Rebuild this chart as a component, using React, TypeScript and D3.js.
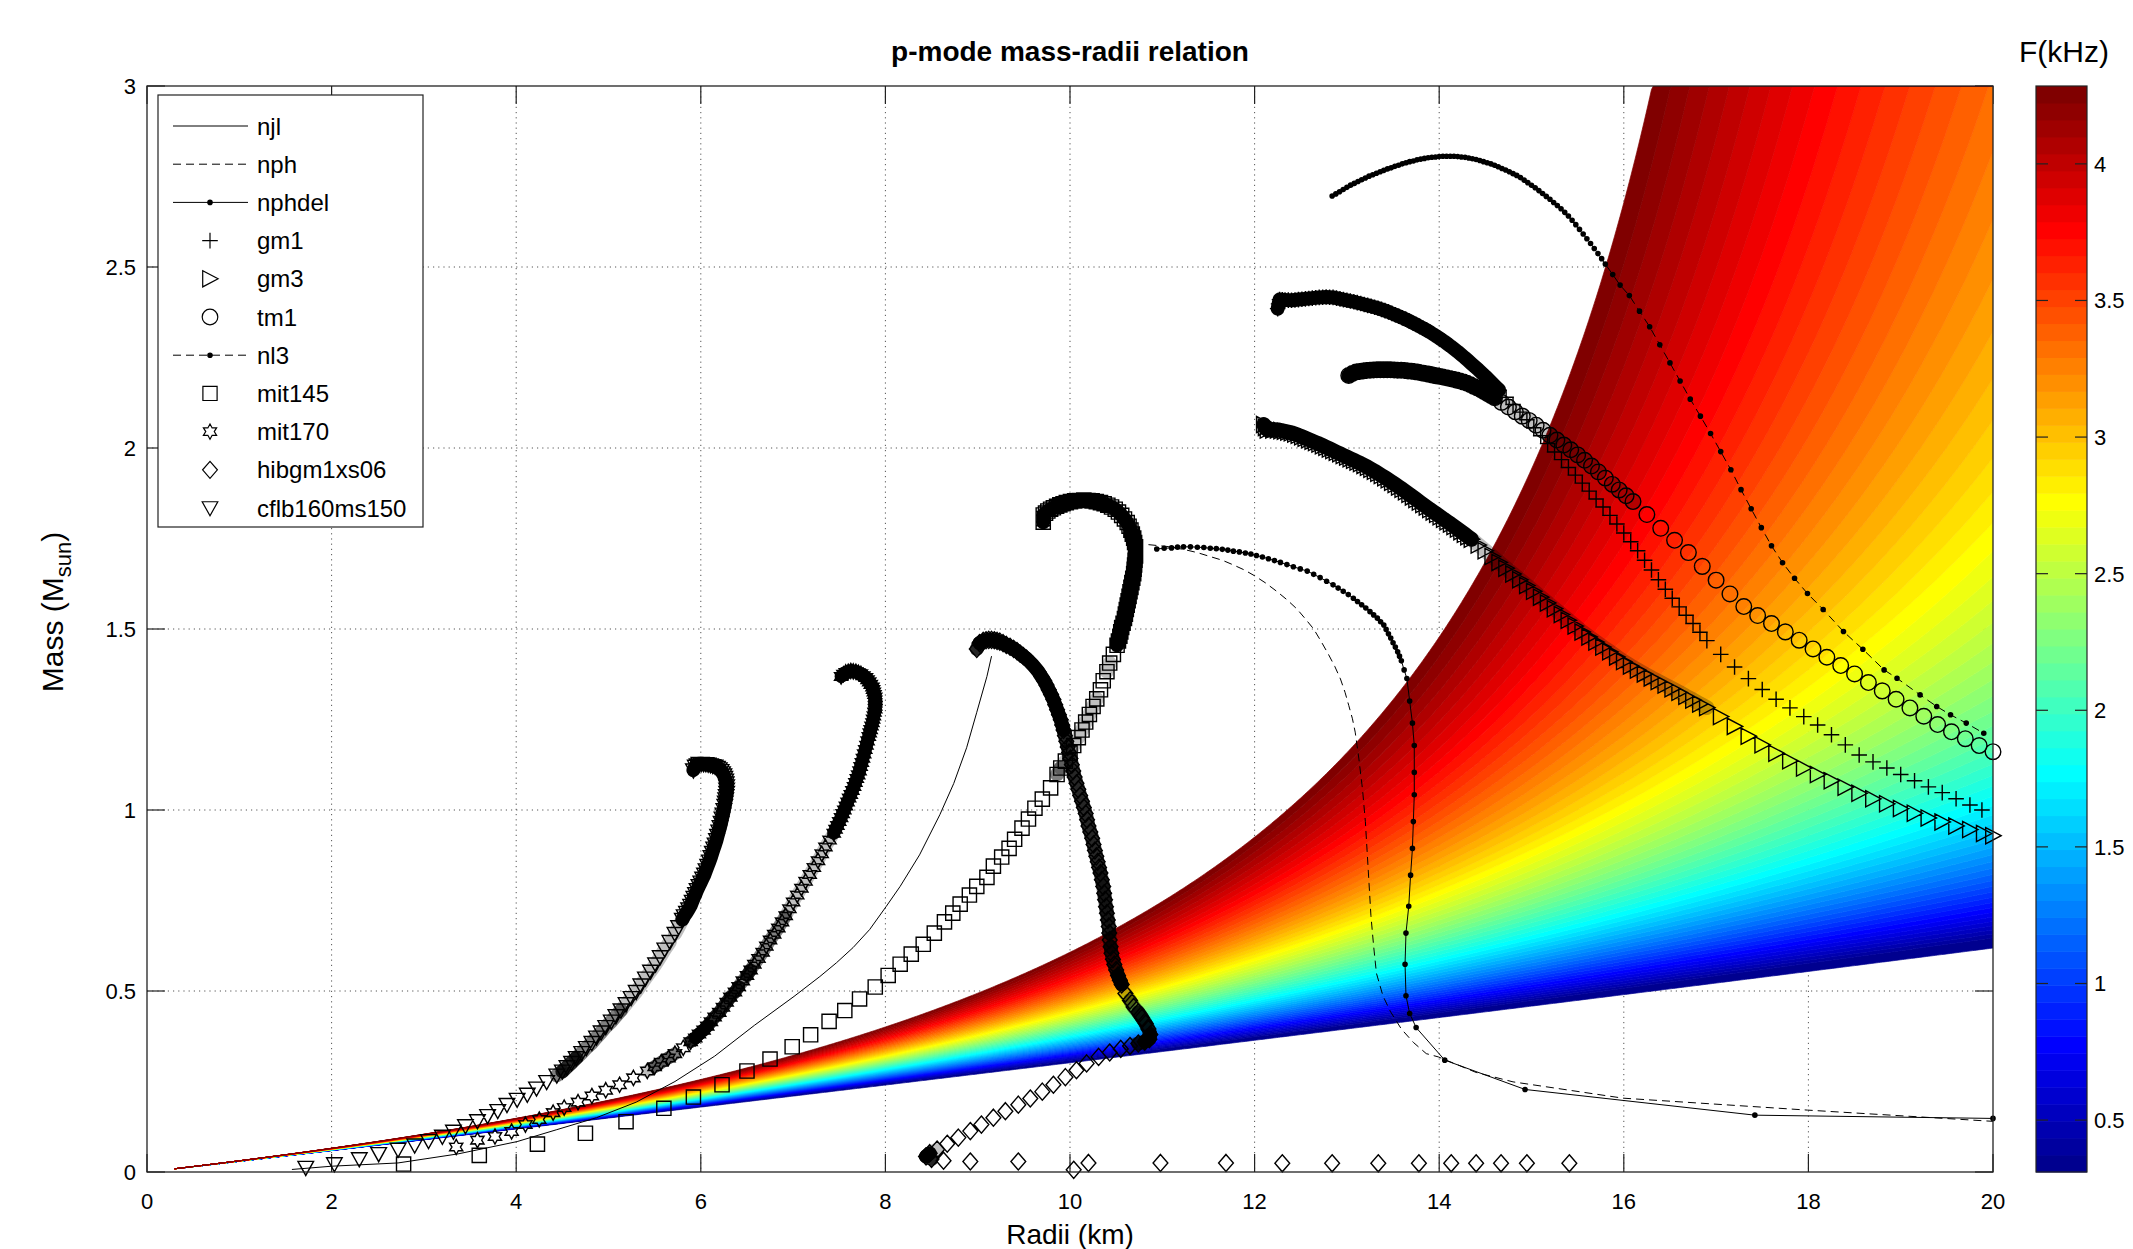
import React from 'react';
import * as d3 from 'd3';

type Pt = [number, number];

// ---- axes / colour data ----
const xTicks = [0, 2, 4, 6, 8, 10, 12, 14, 16, 18, 20];
const yTicks = [0, 0.5, 1, 1.5, 2, 2.5, 3];
const cTicks = [0.5, 1, 1.5, 2, 2.5, 3, 3.5, 4];
const cLimits: [number, number] = [0.31, 4.285];
const fieldLimits: [number, number] = [0.2, 4.285];
// empirical p-mode fit: F(kHz) = (1/Mb)(c0 + c1*Mb/Rb), Mb = M/1.4, Rb = R/10
const pModeFit = { c0: -1.75, c1: 8.32, mRef: 1.4, rRef: 10 };

// ---- mass-radius sequences [R (km), M (Msun)] ----
const njl: Pt[] = [[1.57,0.007],[2.0,0.016],[2.72,0.025],[3.37,0.05],[4.01,0.084],[4.44,0.117],[4.87,0.15],[5.3,0.193],[5.72,0.25],[6.15,0.32],[6.58,0.405],[7.01,0.485],[7.29,0.54],[7.47,0.578],[7.65,0.62],[7.83,0.67],[8.01,0.734],[8.16,0.789],[8.37,0.876],[8.59,0.987],[8.74,1.073],[8.88,1.172],[8.99,1.27],[9.1,1.369],[9.15,1.425]];

const nph: Pt[] = [[10.85,1.733],[11.05,1.728],[11.23,1.72],[11.38,1.711],[11.52,1.7],[11.65,1.69],[11.77,1.677],[11.89,1.663],[12.0,1.647],[12.12,1.627],[12.24,1.604],[12.35,1.581],[12.46,1.555],[12.55,1.528],[12.64,1.5],[12.72,1.466],[12.8,1.43],[12.87,1.396],[12.93,1.362],[12.98,1.325],[13.02,1.289],[13.06,1.252],[13.09,1.215],[13.11,1.178],[13.13,1.141],[13.15,1.098],[13.17,1.055],[13.2,0.968],[13.22,0.882],[13.24,0.796],[13.26,0.709],[13.29,0.623],[13.32,0.549],[13.39,0.487],[13.47,0.444],[13.59,0.395],[13.72,0.358],[13.86,0.327],[13.99,0.318],[14.4,0.275],[14.8,0.249],[15.99,0.204],[17.99,0.171],[19.93,0.141],[20.0,0.14]];

const nphdel: Pt[] = [[10.94,1.721],[11.02,1.723],[11.1,1.724],[11.165,1.726],[11.23,1.727],[11.305,1.727],[11.38,1.726],[11.45,1.725],[11.52,1.723],[11.585,1.722],[11.65,1.72],[11.71,1.718],[11.77,1.715],[11.835,1.713],[11.9,1.71],[11.96,1.707],[12.02,1.703],[12.085,1.699],[12.15,1.694],[12.215,1.689],[12.28,1.684],[12.35,1.678],[12.42,1.672],[12.495,1.666],[12.57,1.66],[12.64,1.651],[12.71,1.642],[12.78,1.632],[12.85,1.622],[12.905,1.613],[12.96,1.604],[13.015,1.595],[13.07,1.585],[13.115,1.576],[13.16,1.567],[13.205,1.558],[13.25,1.548],[13.29,1.539],[13.33,1.53],[13.365,1.52],[13.4,1.511],[13.425,1.499],[13.45,1.487],[13.475,1.475],[13.5,1.462],[13.525,1.45],[13.55,1.437],[13.57,1.425],[13.59,1.412],[13.62,1.387],[13.65,1.363],[13.68,1.301],[13.71,1.24],[13.73,1.178],[13.73,1.104],[13.73,1.042],[13.72,0.968],[13.71,0.894],[13.69,0.82],[13.67,0.734],[13.64,0.66],[13.63,0.574],[13.64,0.487],[13.68,0.438],[13.75,0.399],[14.06,0.309],[14.93,0.228],[17.42,0.157],[20.0,0.148]];

const gm1: Pt[] = [[12.25,2.385],[12.26,2.398],[12.27,2.41],[12.3,2.4095],[12.33,2.409],[12.365,2.4085],[12.4,2.408],[12.4375,2.409],[12.475,2.41],[12.5125,2.411],[12.55,2.412],[12.5875,2.413],[12.625,2.414],[12.6625,2.415],[12.7,2.416],[12.7375,2.4165],[12.775,2.417],[12.8125,2.4165],[12.85,2.416],[12.8875,2.414],[12.925,2.412],[12.9625,2.41],[13.0,2.408],[13.0375,2.406],[13.075,2.404],[13.1125,2.4015],[13.15,2.399],[13.1875,2.3965],[13.225,2.394],[13.2625,2.3915],[13.3,2.389],[13.3375,2.386],[13.375,2.383],[13.4125,2.3795],[13.45,2.376],[13.4875,2.372],[13.525,2.368],[13.5625,2.364],[13.6,2.36],[13.6375,2.3555],[13.675,2.351],[13.7125,2.346],[13.75,2.341],[13.7875,2.336],[13.825,2.331],[13.8625,2.3255],[13.9,2.32],[13.9375,2.314],[13.975,2.308],[14.0125,2.3015],[14.05,2.295],[14.0875,2.288],[14.125,2.281],[14.1625,2.2735],[14.2,2.266],[14.2375,2.258],[14.275,2.25],[14.3125,2.2415],[14.35,2.233],[14.3875,2.2245],[14.425,2.216],[14.4625,2.207],[14.5,2.198],[14.5375,2.1885],[14.575,2.179],[14.6125,2.1695],[14.65,2.16],[14.725,2.14],[14.8,2.12],[14.875,2.099],[14.95,2.078],[15.025,2.056],[15.1,2.034],[15.175,2.012],[15.25,1.989],[15.325,1.968],[15.4,1.946],[15.475,1.925],[15.55,1.903],[15.625,1.881],[15.7,1.859],[15.775,1.837],[15.85,1.814],[15.925,1.79],[16.0,1.765],[16.075,1.741],[16.15,1.716],[16.225,1.69],[16.3,1.663],[16.375,1.636],[16.45,1.61],[16.525,1.585],[16.6,1.561],[16.675,1.538],[16.75,1.515],[16.825,1.491],[16.9,1.468],[17.05,1.43],[17.2,1.395],[17.35,1.363],[17.5,1.333],[17.65,1.306],[17.8,1.282],[17.95,1.258],[18.1,1.235],[18.25,1.208],[18.4,1.18],[18.55,1.152],[18.7,1.133],[18.85,1.116],[19.0,1.098],[19.15,1.081],[19.3,1.064],[19.45,1.048],[19.6,1.031],[19.75,1.014],[19.88,1.0]];

const gm3: Pt[] = [[12.1,2.065],[12.12,2.057],[12.14,2.05],[12.2,2.05],[12.25,2.05],[12.2875,2.048],[12.325,2.046],[12.3625,2.044],[12.4,2.042],[12.4375,2.0385],[12.475,2.035],[12.5125,2.031],[12.55,2.027],[12.5875,2.023],[12.625,2.019],[12.6625,2.015],[12.7,2.011],[12.7375,2.0065],[12.775,2.002],[12.8125,1.9975],[12.85,1.993],[12.8875,1.9885],[12.925,1.984],[12.9625,1.9795],[13.0,1.975],[13.0375,1.9705],[13.075,1.966],[13.1125,1.9615],[13.15,1.957],[13.1875,1.952],[13.225,1.947],[13.2625,1.9415],[13.3,1.936],[13.3375,1.93],[13.375,1.924],[13.4125,1.918],[13.45,1.912],[13.4875,1.9055],[13.525,1.899],[13.5625,1.8925],[13.6,1.886],[13.6375,1.879],[13.675,1.872],[13.7125,1.865],[13.75,1.858],[13.7875,1.851],[13.825,1.844],[13.8625,1.837],[13.9,1.83],[13.9375,1.8235],[13.975,1.817],[14.0125,1.81],[14.05,1.803],[14.0875,1.7965],[14.125,1.79],[14.1625,1.783],[14.2,1.776],[14.2375,1.769],[14.275,1.762],[14.3125,1.755],[14.35,1.748],[14.425,1.732],[14.5,1.716],[14.575,1.7],[14.65,1.684],[14.725,1.668],[14.8,1.652],[14.875,1.636],[14.95,1.62],[15.025,1.604],[15.1,1.588],[15.175,1.572],[15.25,1.556],[15.325,1.54],[15.4,1.524],[15.475,1.508],[15.55,1.492],[15.625,1.478],[15.7,1.464],[15.775,1.45],[15.85,1.437],[15.925,1.423],[16.0,1.41],[16.075,1.398],[16.15,1.387],[16.225,1.376],[16.3,1.365],[16.375,1.355],[16.45,1.345],[16.525,1.335],[16.6,1.325],[16.675,1.314],[16.75,1.304],[16.825,1.293],[16.9,1.283],[17.05,1.258],[17.2,1.231],[17.35,1.204],[17.5,1.18],[17.65,1.157],[17.8,1.136],[17.95,1.116],[18.1,1.098],[18.25,1.081],[18.4,1.063],[18.55,1.046],[18.7,1.031],[18.85,1.017],[19.0,1.004],[19.15,0.991],[19.3,0.978],[19.45,0.967],[19.6,0.956],[19.75,0.946],[19.9,0.935],[20.0,0.929]];

const tm1: Pt[] = [[13.02,2.2],[13.06,2.206],[13.1,2.21],[13.1375,2.2115],[13.175,2.213],[13.2125,2.214],[13.25,2.215],[13.2875,2.2155],[13.325,2.216],[13.3625,2.216],[13.4,2.216],[13.4375,2.216],[13.475,2.216],[13.5125,2.2155],[13.55,2.215],[13.5875,2.2145],[13.625,2.214],[13.6625,2.213],[13.7,2.212],[13.7375,2.2105],[13.775,2.209],[13.8125,2.2075],[13.85,2.206],[13.8875,2.204],[13.925,2.202],[13.9625,2.2],[14.0,2.198],[14.0375,2.196],[14.075,2.194],[14.1125,2.192],[14.15,2.19],[14.1875,2.1875],[14.225,2.185],[14.2625,2.182],[14.3,2.179],[14.3375,2.1745],[14.375,2.17],[14.4125,2.1655],[14.45,2.161],[14.4875,2.1555],[14.525,2.15],[14.5625,2.1445],[14.6,2.139],[14.675,2.126],[14.75,2.113],[14.825,2.1],[14.9,2.088],[14.975,2.076],[15.05,2.063],[15.125,2.049],[15.2,2.035],[15.275,2.022],[15.35,2.008],[15.425,1.995],[15.5,1.981],[15.575,1.966],[15.65,1.95],[15.725,1.934],[15.8,1.917],[15.875,1.9],[15.95,1.884],[16.025,1.868],[16.1,1.852],[16.25,1.816],[16.4,1.778],[16.55,1.745],[16.7,1.711],[16.85,1.673],[17.0,1.635],[17.15,1.597],[17.3,1.562],[17.45,1.537],[17.6,1.515],[17.75,1.492],[17.9,1.469],[18.05,1.445],[18.2,1.422],[18.35,1.399],[18.5,1.376],[18.65,1.352],[18.8,1.329],[18.95,1.306],[19.1,1.282],[19.25,1.259],[19.4,1.236],[19.55,1.216],[19.7,1.197],[19.85,1.178],[20.0,1.161]];

const nl3: Pt[] = [[12.84,2.696],[12.88,2.702],[12.92,2.708],[12.96,2.714],[13.0,2.72],[13.04,2.726],[13.08,2.731],[13.12,2.736],[13.16,2.741],[13.2,2.746],[13.24,2.751],[13.28,2.755],[13.32,2.759],[13.36,2.763],[13.4,2.767],[13.44,2.771],[13.48,2.774],[13.52,2.778],[13.56,2.781],[13.6,2.785],[13.64,2.788],[13.68,2.791],[13.72,2.793],[13.76,2.796],[13.8,2.798],[13.84,2.8],[13.88,2.802],[13.92,2.803],[13.96,2.804],[14.0,2.805],[14.04,2.806],[14.08,2.806],[14.12,2.806],[14.16,2.806],[14.2,2.805],[14.24,2.804],[14.28,2.803],[14.32,2.801],[14.36,2.799],[14.4,2.797],[14.44,2.794],[14.48,2.791],[14.52,2.788],[14.56,2.785],[14.6,2.781],[14.64,2.777],[14.68,2.772],[14.72,2.768],[14.76,2.763],[14.8,2.758],[14.84,2.753],[14.88,2.747],[14.92,2.74],[14.96,2.733],[15.0,2.726],[15.04,2.719],[15.08,2.711],[15.12,2.703],[15.16,2.695],[15.2,2.687],[15.24,2.678],[15.28,2.67],[15.32,2.661],[15.36,2.651],[15.4,2.641],[15.44,2.629],[15.48,2.617],[15.52,2.604],[15.56,2.591],[15.6,2.578],[15.64,2.565],[15.68,2.551],[15.72,2.537],[15.76,2.523],[15.8,2.508],[15.88,2.479],[15.96,2.45],[16.06,2.421],[16.17,2.378],[16.28,2.335],[16.39,2.285],[16.5,2.235],[16.61,2.185],[16.72,2.135],[16.83,2.088],[16.94,2.04],[17.05,1.99],[17.16,1.94],[17.27,1.885],[17.38,1.832],[17.49,1.78],[17.6,1.73],[17.72,1.683],[17.85,1.64],[17.99,1.598],[18.16,1.554],[18.38,1.493],[18.59,1.444],[18.82,1.387],[18.96,1.364],[19.21,1.318],[19.39,1.286],[19.54,1.263],[19.71,1.24],[19.9,1.212]];

const mit145: Pt[] = [[2.78,0.022],[3.6,0.046],[4.23,0.077],[4.75,0.107],[5.19,0.139],[5.6,0.176],[5.92,0.207],[6.23,0.241],[6.5,0.279],[6.75,0.312],[6.99,0.346],[7.19,0.379],[7.39,0.416],[7.56,0.446],[7.72,0.478],[7.89,0.511],[8.03,0.543],[8.16,0.574],[8.28,0.602],[8.41,0.629],[8.53,0.66],[8.64,0.691],[8.73,0.715],[8.81,0.74],[8.91,0.765],[8.99,0.789],[9.1,0.814],[9.17,0.845],[9.26,0.87],[9.34,0.894],[9.4,0.919],[9.48,0.95],[9.55,0.975],[9.62,1.005],[9.7,1.03],[9.79,1.061],[9.86,1.098],[9.9,1.116],[9.95,1.135],[10.0,1.157],[10.04,1.178],[10.09,1.2],[10.13,1.221],[10.17,1.243],[10.21,1.264],[10.25,1.286],[10.29,1.307],[10.33,1.332],[10.36,1.357],[10.4,1.382],[10.43,1.406],[10.47,1.43],[10.51,1.455],[10.525,1.467],[10.54,1.48],[10.55,1.492],[10.56,1.504],[10.575,1.516],[10.59,1.529],[10.6,1.541],[10.61,1.554],[10.62,1.566],[10.63,1.578],[10.64,1.59],[10.65,1.603],[10.66,1.615],[10.67,1.628],[10.68,1.64],[10.69,1.653],[10.695,1.665],[10.7,1.677],[10.705,1.69],[10.71,1.702],[10.71,1.714],[10.71,1.727],[10.7,1.739],[10.69,1.751],[10.675,1.762],[10.66,1.773],[10.64,1.784],[10.62,1.794],[10.59,1.804],[10.56,1.814],[10.525,1.823],[10.49,1.831],[10.45,1.837],[10.41,1.842],[10.37,1.846],[10.33,1.849],[10.285,1.852],[10.24,1.854],[10.195,1.855],[10.15,1.856],[10.1,1.855],[10.05,1.854],[10.005,1.852],[9.96,1.849],[9.925,1.846],[9.89,1.843],[9.855,1.839],[9.82,1.835],[9.79,1.831],[9.76,1.826],[9.735,1.82],[9.71,1.815],[9.71,1.805],[9.71,1.795]];

const mit170: Pt[] = [[3.35,0.069],[3.58,0.088],[3.77,0.098],[3.95,0.112],[4.1,0.131],[4.25,0.145],[4.4,0.164],[4.52,0.178],[4.67,0.193],[4.82,0.21],[4.97,0.226],[5.12,0.241],[5.27,0.26],[5.42,0.279],[5.5,0.291],[5.57,0.303],[5.65,0.315],[5.72,0.327],[5.81,0.343],[5.89,0.36],[5.94,0.37],[5.98,0.381],[6.03,0.392],[6.07,0.403],[6.11,0.415],[6.15,0.428],[6.2,0.441],[6.24,0.455],[6.28,0.469],[6.32,0.483],[6.37,0.497],[6.41,0.512],[6.455,0.528],[6.5,0.543],[6.54,0.558],[6.58,0.574],[6.625,0.59],[6.67,0.607],[6.71,0.624],[6.75,0.641],[6.795,0.657],[6.84,0.674],[6.88,0.691],[6.92,0.708],[6.96,0.727],[7.0,0.746],[7.045,0.765],[7.09,0.784],[7.135,0.803],[7.18,0.822],[7.225,0.841],[7.27,0.86],[7.31,0.879],[7.35,0.898],[7.395,0.917],[7.44,0.936],[7.46,0.947],[7.48,0.957],[7.5,0.968],[7.52,0.979],[7.537,0.99],[7.555,1.0],[7.572,1.011],[7.59,1.022],[7.607,1.033],[7.625,1.043],[7.642,1.054],[7.66,1.065],[7.675,1.076],[7.69,1.087],[7.705,1.097],[7.72,1.108],[7.732,1.12],[7.745,1.131],[7.757,1.143],[7.77,1.155],[7.782,1.167],[7.795,1.179],[7.807,1.191],[7.82,1.203],[7.83,1.213],[7.84,1.222],[7.85,1.232],[7.86,1.241],[7.867,1.251],[7.875,1.26],[7.882,1.27],[7.89,1.279],[7.89,1.287],[7.89,1.296],[7.89,1.304],[7.89,1.312],[7.882,1.319],[7.875,1.326],[7.867,1.333],[7.86,1.34],[7.842,1.347],[7.825,1.354],[7.807,1.36],[7.79,1.366],[7.762,1.371],[7.735,1.376],[7.707,1.379],[7.68,1.382],[7.652,1.383],[7.625,1.384],[7.597,1.382],[7.57,1.38],[7.545,1.375],[7.52,1.369]];

const hibgm1xs06: Pt[] = [[15.41,0.024],[14.95,0.024],[14.67,0.024],[14.4,0.024],[14.13,0.024],[13.78,0.024],[13.34,0.024],[12.84,0.024],[12.3,0.024],[11.69,0.025],[10.98,0.025],[10.2,0.025],[10.04,0.006],[9.44,0.029],[8.92,0.029],[8.63,0.031],[8.5,0.036],[8.44,0.043],[8.48,0.052],[8.56,0.062],[8.67,0.078],[8.79,0.095],[8.92,0.113],[9.04,0.131],[9.17,0.15],[9.3,0.168],[9.44,0.186],[9.57,0.203],[9.7,0.222],[9.82,0.241],[9.95,0.262],[10.07,0.281],[10.18,0.3],[10.31,0.318],[10.43,0.33],[10.55,0.34],[10.65,0.348],[10.74,0.355],[10.81,0.36],[10.86,0.367],[10.87,0.38],[10.85,0.395],[10.82,0.41],[10.78,0.426],[10.74,0.441],[10.69,0.456],[10.65,0.474],[10.6,0.493],[10.56,0.518],[10.54,0.53],[10.52,0.543],[10.5,0.558],[10.48,0.573],[10.465,0.588],[10.45,0.604],[10.44,0.622],[10.43,0.641],[10.425,0.66],[10.42,0.678],[10.41,0.696],[10.4,0.715],[10.39,0.733],[10.38,0.752],[10.37,0.77],[10.36,0.789],[10.345,0.807],[10.33,0.826],[10.315,0.841],[10.3,0.857],[10.285,0.872],[10.27,0.888],[10.255,0.905],[10.24,0.922],[10.22,0.939],[10.2,0.956],[10.185,0.973],[10.17,0.99],[10.15,1.007],[10.13,1.024],[10.11,1.04],[10.09,1.057],[10.07,1.074],[10.05,1.091],[10.035,1.108],[10.02,1.125],[10.005,1.142],[9.99,1.159],[9.975,1.174],[9.96,1.19],[9.945,1.205],[9.93,1.221],[9.915,1.235],[9.9,1.249],[9.88,1.263],[9.86,1.277],[9.84,1.291],[9.82,1.305],[9.795,1.319],[9.77,1.332],[9.745,1.345],[9.72,1.357],[9.69,1.369],[9.66,1.381],[9.63,1.391],[9.6,1.4],[9.565,1.409],[9.53,1.418],[9.495,1.425],[9.46,1.432],[9.425,1.439],[9.39,1.445],[9.35,1.451],[9.31,1.456],[9.275,1.461],[9.24,1.465],[9.21,1.467],[9.18,1.469],[9.15,1.47],[9.12,1.47],[9.09,1.469],[9.06,1.467],[9.02,1.461],[8.99,1.445]];

const cflb160ms150: Pt[] = [[1.72,0.012],[2.03,0.022],[2.3,0.036],[2.51,0.05],[2.72,0.062],[2.9,0.074],[3.05,0.086],[3.2,0.098],[3.32,0.112],[3.45,0.127],[3.58,0.141],[3.69,0.155],[3.8,0.169],[3.9,0.186],[4.01,0.2],[4.12,0.214],[4.22,0.231],[4.33,0.249],[4.44,0.267],[4.5,0.278],[4.55,0.29],[4.6,0.302],[4.65,0.315],[4.71,0.329],[4.76,0.343],[4.82,0.357],[4.87,0.372],[4.92,0.386],[4.97,0.401],[5.03,0.416],[5.08,0.431],[5.135,0.447],[5.19,0.464],[5.245,0.481],[5.3,0.498],[5.35,0.516],[5.4,0.535],[5.455,0.554],[5.51,0.574],[5.56,0.594],[5.61,0.615],[5.665,0.636],[5.72,0.658],[5.76,0.677],[5.8,0.697],[5.82,0.707],[5.845,0.716],[5.868,0.726],[5.89,0.736],[5.907,0.747],[5.925,0.758],[5.943,0.768],[5.96,0.779],[5.98,0.79],[6.0,0.8],[6.02,0.811],[6.04,0.822],[6.057,0.834],[6.075,0.846],[6.093,0.858],[6.11,0.87],[6.125,0.882],[6.14,0.894],[6.155,0.905],[6.17,0.917],[6.182,0.929],[6.195,0.941],[6.208,0.953],[6.22,0.965],[6.23,0.977],[6.24,0.988],[6.25,1.0],[6.26,1.012],[6.265,1.021],[6.27,1.03],[6.275,1.039],[6.28,1.048],[6.28,1.057],[6.28,1.066],[6.275,1.074],[6.27,1.082],[6.26,1.089],[6.25,1.096],[6.235,1.102],[6.22,1.108],[6.2,1.113],[6.18,1.117],[6.155,1.12],[6.13,1.122],[6.105,1.124],[6.08,1.126],[6.055,1.127],[6.03,1.127],[6.005,1.128],[5.98,1.128],[5.96,1.124],[5.94,1.12],[5.92,1.11]];

type Marker = 'plus' | 'tri-right' | 'circle' | 'square' | 'hexagram' | 'diamond' | 'tri-down' | 'dot';
interface Series { name: string; data: Pt[]; line?: 'solid' | 'dash'; marker?: Marker }

const series: Series[] = [
  { name: 'njl', data: njl, line: 'solid' },
  { name: 'nph', data: nph, line: 'dash' },
  { name: 'nphdel', data: nphdel, line: 'solid', marker: 'dot' },
  { name: 'gm1', data: gm1, marker: 'plus' },
  { name: 'gm3', data: gm3, marker: 'tri-right' },
  { name: 'tm1', data: tm1, marker: 'circle' },
  { name: 'nl3', data: nl3, line: 'dash', marker: 'dot' },
  { name: 'mit145', data: mit145, marker: 'square' },
  { name: 'mit170', data: mit170, marker: 'hexagram' },
  { name: 'hibgm1xs06', data: hibgm1xs06, marker: 'diamond' },
  { name: 'cflb160ms150', data: cflb160ms150, marker: 'tri-down' },
];

// ---- layout ----
const W = 2133, H = 1249;
const P = { left: 147, right: 1993, top: 86, bottom: 1172 };
const CB = { left: 2036, right: 2087 };
const FONT = '"Liberation Sans", Arial, Helvetica, sans-serif';

const x = d3.scaleLinear().domain([0, 20]).range([P.left, P.right]);
const y = d3.scaleLinear().domain([0, 3]).range([P.bottom, P.top]);
const cy = d3.scaleLinear().domain(cLimits).range([P.bottom, P.top]);

// MATLAB jet colormap
function jet(n: number): string[] {
  const m = Math.ceil(n / 4);
  const u = [...d3.range(1, m + 1).map(i => i / m), ...Array(m - 1).fill(1), ...d3.range(m, 0, -1).map(i => i / m)];
  const off = Math.ceil(m / 2) - (n % 4 === 1 ? 1 : 0);
  const rgb = Array.from({ length: n }, () => [0, 0, 0]);
  u.forEach((v, i) => {
    const g = off + i + 1, r = g + m, b = g - m;
    if (r >= 1 && r <= n) rgb[r - 1][0] = v;
    if (g >= 1 && g <= n) rgb[g - 1][1] = v;
    if (b >= 1 && b <= n) rgb[b - 1][2] = v;
  });
  return rgb.map(([r, g, b]) => d3.rgb(r * 255, g * 255, b * 255).formatHex());
}
const colors = jet(64);

// mass on the contour F(R, M) = f
function massAt(r: number, f: number): number {
  const { c0, c1, mRef, rRef } = pModeFit;
  const den = f - (c1 * rRef) / r;
  if (den >= 0) return 3;
  return Math.min(3, Math.max(0, (c0 * mRef) / den));
}

const rSamples = d3.range(0.3, 20.0001, 0.02);
const step = (cLimits[1] - cLimits[0]) / 64;
const bands = colors.map((c, k) => {
  const fa = k === 0 ? fieldLimits[0] : cLimits[0] + k * step;
  const fb = cLimits[0] + (k + 1) * step;
  const area = d3.area<number>().x(r => x(r)).y0(r => y(massAt(r, fa))).y1(r => y(massAt(r, fb)));
  return { c, d: area(rSamples) || '' };
});

function markerD(kind: Marker, px: number, py: number): string {
  switch (kind) {
    case 'plus': { const s = 7.8; return `M${px - s},${py}h${2 * s}M${px},${py - s}v${2 * s}`; }
    case 'tri-right': { const s = 8.1; return `M${px + s},${py}L${px - s * 0.9},${py - s}L${px - s * 0.9},${py + s}Z`; }
    case 'tri-down': { const s = 7.8; return `M${px - s},${py - s * 0.8}L${px + s},${py - s * 0.8}L${px},${py + s}Z`; }
    case 'circle': { const s = 7.8; return `M${px - s},${py}a${s},${s} 0 1,0 ${2 * s},0a${s},${s} 0 1,0 ${-2 * s},0`; }
    case 'square': { const s = 7.1; return `M${px - s},${py - s}h${2 * s}v${2 * s}h${-2 * s}Z`; }
    case 'diamond': { const s = 7.4; return `M${px},${py - s * 1.15}L${px + s},${py}L${px},${py + s * 1.15}L${px - s},${py}Z`; }
    case 'hexagram': {
      const s = 7.6;
      const pts = d3.range(12).map(i => {
        const a = -Math.PI / 2 + (i * Math.PI) / 6;
        const rr = i % 2 === 0 ? s : s * 0.56;
        return `${px + rr * Math.cos(a)},${py + rr * Math.sin(a)}`;
      });
      return `M${pts.join('L')}Z`;
    }
    case 'dot': return `M${px - 2.8},${py}a2.8,2.8 0 1,0 5.6,0a2.8,2.8 0 1,0 -5.6,0`;
  }
}

// where markers sit only a few pixels apart their outlines merge into a dark band;
// draw that band under the outlines, darker the tighter the spacing
const bandWidth: Record<Marker, number> = { plus: 14, 'tri-right': 15, circle: 15, square: 14, hexagram: 13, diamond: 14, 'tri-down': 14, dot: 0 };
const overlapBins = [
  { max: 5.6, opacity: 1 },
  { max: 6.8, opacity: 0.85 },
  { max: 7.8, opacity: 0.5 },
  { max: 9.2, opacity: 0.25 },
];
function overlapPaths(s: Series): { d: string; opacity: number }[] {
  const pts = s.data.map(p => [x(p[0]), y(p[1])]);
  const paths = overlapBins.map(b => ({ d: '', opacity: b.opacity, last: -1 }));
  for (let i = 1; i < pts.length; i++) {
    const dist = Math.hypot(pts[i][0] - pts[i - 1][0], pts[i][1] - pts[i - 1][1]);
    const bi = overlapBins.findIndex(b => dist <= b.max);
    if (bi < 0) continue;
    const p = paths[bi];
    if (p.last !== i - 1) p.d += `M${pts[i - 1][0]},${pts[i - 1][1]}`;
    p.d += `L${pts[i][0]},${pts[i][1]}`;
    p.last = i;
  }
  return paths.filter(p => p.d).reverse();
}

const lineGen = d3.line<Pt>().x(d => x(d[0])).y(d => y(d[1]));
const dashOf = (l?: string) => (l === 'dash' ? '8,5' : undefined);

const legendRows = series.map((s, i) => ({ s, cy: 126 + i * 38.2 }));

export default function App() {
  return (
    <svg width={W} height={H} style={{ position: 'absolute', left: 0, top: 0, background: '#fff' }} fontFamily={FONT}>
      <defs>
        <clipPath id="plotClip">
          <rect x={P.left} y={P.top} width={P.right - P.left} height={P.bottom - P.top} />
        </clipPath>
      </defs>
      <rect x={0} y={0} width={W} height={H} fill="#fff" />

      {/* grid */}
      <g stroke="#555" strokeWidth={1} strokeDasharray="1.2,4">
        {xTicks.slice(1, -1).map(t => <line key={'gx' + t} x1={x(t)} x2={x(t)} y1={P.top} y2={P.bottom} />)}
        {yTicks.slice(1, -1).map(t => <line key={'gy' + t} x1={P.left} x2={P.right} y1={y(t)} y2={y(t)} />)}
      </g>

      {/* ticks (under the field, like MATLAB) */}
      <g stroke="#222" strokeWidth={1.2}>
        {xTicks.map(t => <line key={'tb' + t} x1={x(t)} x2={x(t)} y1={P.bottom} y2={P.bottom - 18} />)}
        {xTicks.map(t => <line key={'tt' + t} x1={x(t)} x2={x(t)} y1={P.top} y2={P.top + 18} />)}
        {yTicks.map(t => <line key={'tl' + t} x1={P.left} x2={P.left + 18} y1={y(t)} y2={y(t)} />)}
        {yTicks.map(t => <line key={'tr' + t} x1={P.right} x2={P.right - 18} y1={y(t)} y2={y(t)} />)}
      </g>

      {/* frequency field */}
      <g clipPath="url(#plotClip)">
        {bands.map((b, i) => <path key={'b' + i} d={b.d} fill={b.c} stroke={b.c} strokeWidth={0.7} />)}
      </g>

      {/* curves */}
      <g clipPath="url(#plotClip)" fill="none" stroke="#000" strokeWidth={1}>
        {series.filter(s => s.line).map(s => (
          <path key={'l' + s.name} d={lineGen(s.data) || ''} strokeDasharray={dashOf(s.line)} />
        ))}
      </g>
      {series.filter(s => s.marker && s.marker !== 'dot').map(s => (
        <g key={'ov' + s.name} fill="none" stroke="#000" strokeLinecap="round" strokeLinejoin="round" strokeWidth={bandWidth[s.marker as Marker]}>
          {overlapPaths(s).map((p, i) => <path key={i} d={p.d} strokeOpacity={p.opacity} />)}
        </g>
      ))}
      {series.filter(s => s.marker).map(s => {
        const d = s.data.map(p => markerD(s.marker as Marker, x(p[0]), y(p[1]))).join('');
        return s.marker === 'dot'
          ? <path key={'m' + s.name} d={d} fill="#000" stroke="none" />
          : <path key={'m' + s.name} d={d} fill="none" stroke="#000" strokeWidth={1.4} />;
      })}

      {/* axes box */}
      <rect x={P.left} y={P.top} width={P.right - P.left} height={P.bottom - P.top} fill="none" stroke="#222" strokeWidth={1.3} />

      {/* tick labels */}
      <g fontSize={22} fill="#000">
        {xTicks.map(t => <text key={'xl' + t} x={x(t)} y={1209} textAnchor="middle">{t}</text>)}
        {yTicks.map(t => <text key={'yl' + t} x={P.left - 11} y={y(t)} dy="0.36em" textAnchor="end">{t}</text>)}
      </g>

      {/* titles */}
      <text x={(P.left + P.right) / 2} y={61} textAnchor="middle" fontSize={28} fontWeight="bold">p-mode mass-radii relation</text>
      <text x={(P.left + P.right) / 2} y={1244} textAnchor="middle" fontSize={28}>Radii (km)</text>
      <text transform="translate(63,612) rotate(-90)" textAnchor="middle" fontSize={30}>
        Mass (M<tspan dy={8} fontSize={22}>sun</tspan><tspan dy={-8}>)</tspan>
      </text>

      {/* legend */}
      <g>
        <rect x={158} y={95} width={265} height={432} fill="#fff" stroke="#222" strokeWidth={1.2} />
        {legendRows.map(({ s, cy: ry }) => (
          <g key={'lg' + s.name}>
            {s.line && <line x1={173} x2={248} y1={ry} y2={ry} stroke="#000" strokeWidth={1} strokeDasharray={dashOf(s.line)} />}
            {s.marker && (s.marker === 'dot'
              ? <path d={markerD('dot', 210, ry)} fill="#000" />
              : <path d={markerD(s.marker, 210, ry)} fill="none" stroke="#000" strokeWidth={1.2} />)}
            <text x={257} y={ry} dy="0.36em" fontSize={24}>{s.name}</text>
          </g>
        ))}
      </g>

      {/* colorbar */}
      <g>
        {colors.map((c, k) => {
          const y0 = cy(cLimits[0] + k * step), y1 = cy(cLimits[0] + (k + 1) * step);
          return <rect key={'cb' + k} x={CB.left} y={y1} width={CB.right - CB.left} height={y0 - y1 + 0.5} fill={c} />;
        })}
        <rect x={CB.left} y={P.top} width={CB.right - CB.left} height={P.bottom - P.top} fill="none" stroke="#222" strokeWidth={1.2} />
        {cTicks.map(t => (
          <g key={'ct' + t} stroke="#222" strokeWidth={1.2}>
            <line x1={CB.left} x2={CB.left + 12} y1={cy(t)} y2={cy(t)} />
            <line x1={CB.right} x2={CB.right - 12} y1={cy(t)} y2={cy(t)} />
          </g>
        ))}
        {cTicks.map(t => <text key={'cl' + t} x={CB.right + 7} y={cy(t)} dy="0.36em" fontSize={22}>{t}</text>)}
        <text x={2064} y={62} textAnchor="middle" fontSize={30}>F(kHz)</text>
      </g>
    </svg>
  );
}
